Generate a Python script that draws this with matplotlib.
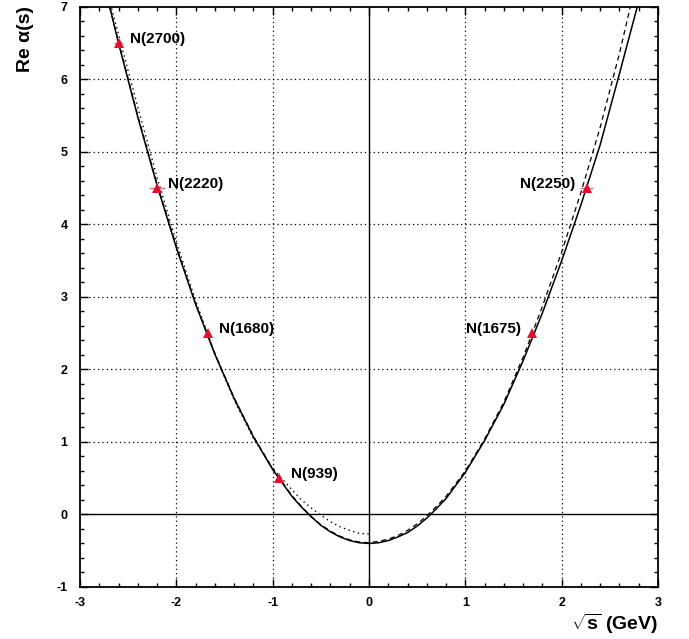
import matplotlib.pyplot as plt
from matplotlib.ticker import MultipleLocator

plt.rcParams["font.family"] = ["Liberation Sans", "DejaVu Sans"]
plt.rcParams["font.weight"] = "bold"
plt.rcParams["mathtext.fontset"] = "custom"
plt.rcParams["mathtext.rm"] = "Liberation Sans:bold"
plt.rcParams["mathtext.bf"] = "Liberation Sans:bold"
plt.rcParams["axes.unicode_minus"] = False

# resonances (x = +/- sqrt(s), y = Re alpha)
names = ["N(2700)", "N(2220)", "N(1680)", "N(939)", "N(1675)", "N(2250)"]
mass = [-2.60, -2.20, -1.67, -0.93, 1.69, 2.26]
spin = [6.5, 4.5, 2.5, 0.5, 2.5, 4.5]
mass_err = [0.05, 0.08, 0.0, 0.0, 0.0, 0.07]
label_side = ["right", "right", "right", "right", "left", "left"]

# trajectories
x_full = [-2.8, -2.6, -2.4, -2.2, -2.0, -1.8, -1.6, -1.4, -1.2, -1.0, -0.8, -0.7,
          -0.6, -0.5, -0.4, -0.3, -0.2, -0.1, 0.0, 0.1, 0.2, 0.3, 0.4, 0.5, 0.6,
          0.7, 0.8, 1.0, 1.2, 1.4, 1.6, 1.8, 2.0, 2.2, 2.4, 2.6, 2.8, 3.0]
solid_y = [7.6, 6.5, 5.48, 4.54, 3.68, 2.90, 2.21, 1.60, 1.07, 0.62, 0.25, 0.10,
           -0.03, -0.15, -0.24, -0.31, -0.36, -0.39, -0.40, -0.39, -0.36, -0.31,
           -0.25, -0.16, -0.05, 0.08, 0.22, 0.58, 1.02, 1.52, 2.12, 2.78, 3.50,
           4.27, 5.10, 6.08, 7.08, 8.1]
dashed_y = [7.55, 6.52, 5.50, 4.56, 3.70, 2.91, 2.22, 1.61, 1.08, 0.63, 0.26, 0.11,
            -0.03, -0.14, -0.23, -0.30, -0.35, -0.38, -0.39, -0.37, -0.34, -0.29,
            -0.22, -0.13, -0.02, 0.11, 0.25, 0.60, 1.04, 1.55, 2.17, 2.87, 3.62,
            4.44, 5.34, 6.36, 7.50, 8.7]
x_left = [-2.8, -2.6, -2.4, -2.2, -2.0, -1.8, -1.6, -1.4, -1.2, -1.0, -0.8, -0.7,
          -0.6, -0.5, -0.4, -0.3, -0.2, -0.1, 0.0]
dotted_y = [7.62, 6.62, 5.62, 4.65, 3.76, 2.95, 2.22, 1.58, 1.05, 0.64, 0.34, 0.20,
            0.09, -0.01, -0.10, -0.17, -0.22, -0.26, -0.27]

fig = plt.figure(figsize=(6.89, 6.39), dpi=100)
ax = fig.add_axes([0.1161, 0.0814, 0.8389, 0.9077])

ax.set_xlim(-3, 3)
ax.set_ylim(-1, 7)

# grid
for gx in [-2, -1, 1, 2]:
    ax.axvline(gx, color="black", linestyle=(0, (1, 2.5)), linewidth=0.9, zorder=1)
for gy in [1, 2, 3, 4, 5, 6]:
    ax.axhline(gy, color="black", linestyle=(0, (1, 2.5)), linewidth=0.9, zorder=1)
ax.axhline(0, color="black", linewidth=1.0, zorder=1)
ax.axvline(0, color="black", linewidth=1.0, zorder=1)

# curves
ax.plot(x_left, dotted_y, color="black", linestyle=(0, (1, 2.5)), linewidth=1.0,
        zorder=2)
ax.plot(x_full, dashed_y, color="black", linestyle=(0, (4, 3)), linewidth=0.9,
        zorder=2)
ax.plot(x_full, solid_y, color="black", linestyle="-", linewidth=1.1, zorder=3,
        solid_joinstyle="round")

# resonances
ax.errorbar(mass, spin, xerr=mass_err, fmt="none", ecolor="#f07080",
            elinewidth=1.0, capsize=0, zorder=4)
ax.plot(mass, spin, linestyle="none", marker="^", markersize=7,
        color="#e0102e", markeredgewidth=0, zorder=5)

for nm, mx, sy, side in zip(names, mass, spin, label_side):
    if side == "right":
        ax.annotate(nm, (mx, sy), xytext=(8, 3), textcoords="offset points",
                    ha="left", va="center", fontsize=11, fontweight="bold")
    else:
        ax.annotate(nm, (mx, sy), xytext=(-8, 3), textcoords="offset points",
                    ha="right", va="center", fontsize=11, fontweight="bold")

# ticks
ax.xaxis.set_major_locator(MultipleLocator(1))
ax.xaxis.set_minor_locator(MultipleLocator(0.2))
ax.yaxis.set_major_locator(MultipleLocator(1))
ax.yaxis.set_minor_locator(MultipleLocator(0.2))
ax.tick_params(which="both", direction="in", top=True, right=True,
               labelsize=9, width=1.0)
ax.tick_params(axis="x", pad=7)
ax.tick_params(axis="y", pad=9)
ax.tick_params(which="major", length=6)
ax.tick_params(which="minor", length=3)
for lab in ax.get_xticklabels() + ax.get_yticklabels():
    lab.set_fontweight("bold")

for sp in ax.spines.values():
    sp.set_linewidth(1.3)

fig.text(0.955, 0.023, r"$\sqrt{\mathbf{s}}$ (GeV)", ha="right", va="center",
         fontsize=14, fontweight="bold")
fig.text(0.037, 0.99, "Re α(s)", ha="center", va="top", rotation=90,
         fontsize=14, fontweight="bold")

plt.savefig("out.png", dpi=100)
plt.close()
